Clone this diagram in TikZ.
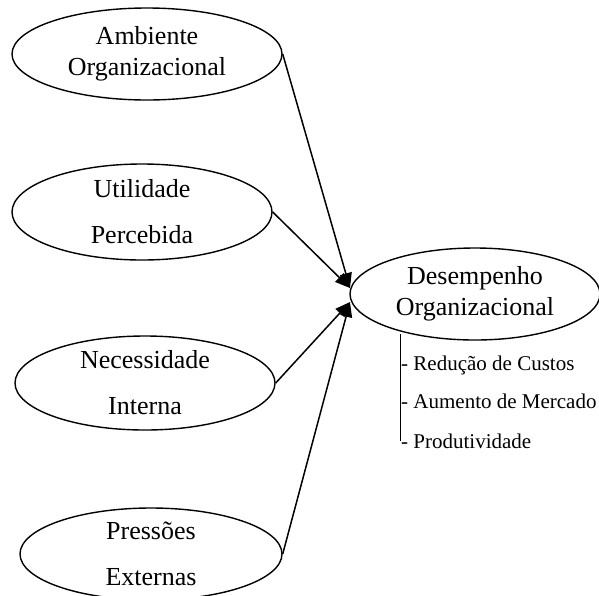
\documentclass[tikz,border=0pt]{standalone}
\usepackage{fontspec}
\setmainfont{Liberation Serif}
\usetikzlibrary{arrows.meta,shapes.geometric}

\begin{document}
\begin{tikzpicture}[x=1pt,y=-1pt,>={Triangle[length=15pt,width=12pt]},
  fator/.style={draw,ellipse,line width=1.4pt,inner sep=0pt,align=center,font=\fontsize{26}{31}\selectfont},
  item/.style={anchor=base west,inner sep=1pt,font=\fontsize{21}{25}\selectfont},
  seta/.style={->,line width=1.5pt}]
\useasboundingbox (0,0) rectangle (599,595);
\node[fator,minimum width=270pt,minimum height=92pt] (amb) at (147,54) {Ambiente\\Organizacional};
\node[fator,minimum width=260pt,minimum height=96pt] (util) at (142,212) {Utilidade\\[15pt]Percebida};
\node[fator,minimum width=260pt,minimum height=94pt] (nec) at (145,383) {Necessidade\\[15pt]Interna};
\node[fator,minimum width=262pt,minimum height=92pt] (press) at (151,554) {Pressões\\[15pt]Externas};
\node[fator,minimum width=250pt,minimum height=92pt] (desemp) at (475,294) {Desempenho\\Organizacional};
\coordinate (alvoA) at (350,288);
\coordinate (alvoB) at (350,302);
\draw[seta] (amb.east)--(alvoA);
\draw[seta] (util.east)--(alvoA);
\draw[seta] (nec.east)--(alvoB);
\draw[seta] (press.east)--(alvoB);
% indicadores de desempenho
\node[item] (custos) at (400,370) {- Redução de Custos};
\node[item] (merc) at (400,408) {- Aumento de Mercado};
\node[item] (prod) at (400,448) {- Produtividade};
\coordinate (haste) at (400,334);
\draw[line width=1pt] (haste)--(haste |- prod.west);
\end{tikzpicture}
\end{document}
